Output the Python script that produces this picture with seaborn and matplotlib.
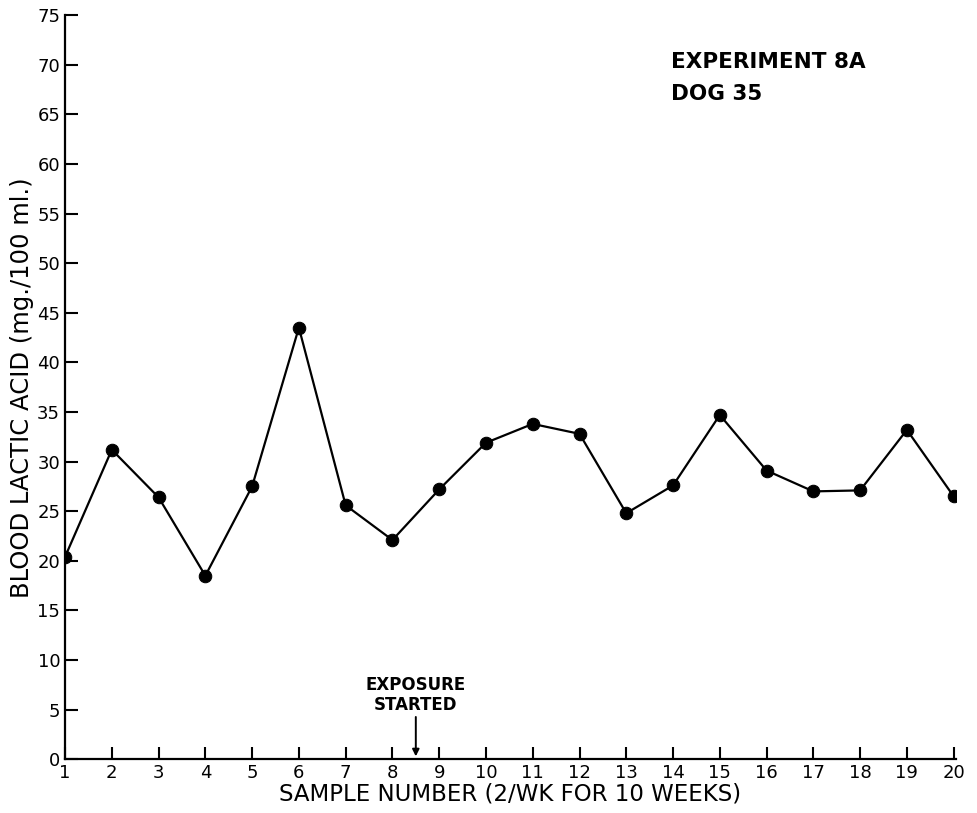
import matplotlib
matplotlib.use("Agg")
import matplotlib.pyplot as plt
import seaborn as sns
import pandas as pd
import numpy as np

# values
sample_number = list(range(1, 21))
lactic_acid = [20.4, 31.2, 26.4, 18.5, 27.5, 43.5, 25.6, 22.1, 27.2, 31.9,
               33.8, 32.8, 24.8, 27.6, 34.7, 29.1, 27.0, 27.1, 33.2, 26.5]
y_ticks = list(range(0, 80, 5))
exposure_at = 8.5

sns.set_style("ticks")
plt.rcParams['font.family'] = ['DejaVu Sans']
plt.rcParams['text.color'] = 'black'
plt.rcParams['axes.labelcolor'] = 'black'

df = pd.DataFrame({"sample": sample_number, "lactic": lactic_acid})

fig = plt.figure(figsize=(9.78, 8.13), dpi=100)
ax = fig.add_axes([0.0665, 0.066, 0.911, 0.9155])

sns.lineplot(data=df, x="sample", y="lactic", color="black", linewidth=1.6,
             marker="o", markersize=9, markeredgecolor="black", ax=ax)

ax.set_xlim(1, 20.05)
ax.set_ylim(0, 75)
ax.set_xticks(sample_number)
ax.set_yticks(y_ticks)
ax.tick_params(direction="in", length=9, width=1.5, labelsize=13, colors="black", pad=3)
ax.tick_params(axis="y", pad=3.5)
for side in ["top", "right"]:
    ax.spines[side].set_visible(False)
for side in ["left", "bottom"]:
    ax.spines[side].set_linewidth(1.6)
    ax.spines[side].set_color("black")

ax.set_xlabel("SAMPLE NUMBER (2/WK FOR 10 WEEKS)", fontsize=16.5, labelpad=1)
ax.set_ylabel("BLOOD LACTIC ACID (mg./100 ml.)", fontsize=17.5, labelpad=2)

ax.text(0.68, 0.95, "EXPERIMENT 8A\nDOG 35", transform=ax.transAxes,
        fontsize=15.5, fontweight="bold", va="top", ha="left", linespacing=1.75)

ax.annotate("EXPOSURE\nSTARTED", xy=(exposure_at, 0.3), xytext=(exposure_at, 4.6),
            ha="center", va="bottom", fontsize=12, fontweight="bold", linespacing=1.15,
            arrowprops=dict(arrowstyle="-|>", color="black", lw=1.4, mutation_scale=10,
                            shrinkA=0, shrinkB=0))

fig.savefig("out.png", dpi=100)
